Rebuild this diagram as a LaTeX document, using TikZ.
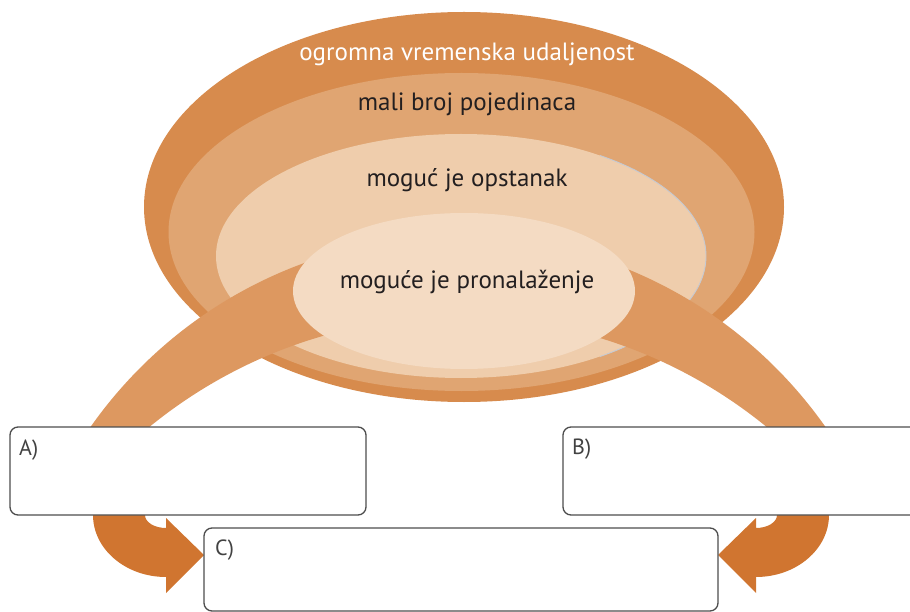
\documentclass[tikz,border=0pt]{standalone}
\usepackage{fontspec}
\setmainfont{PT Sans}
\usetikzlibrary{shapes.geometric}
\definecolor{eone}{HTML}{D78B4D}
\definecolor{etwo}{HTML}{E0A572}
\definecolor{ethree}{HTML}{EFCDAC}
\definecolor{efour}{HTML}{F4DBC3}
\definecolor{bandc}{HTML}{DD9860}
\definecolor{arrowc}{HTML}{D07530}
\definecolor{txtc}{HTML}{231F20}
\definecolor{boxline}{HTML}{4D4D4D}
\definecolor{edgegray}{HTML}{C5CAD3}
\tikzset{
  ring/.style={ellipse, inner sep=0pt, outer sep=0pt},
  ringtext/.style={anchor=base, inner sep=0pt, font=\fontsize{25}{28}\selectfont, text=txtc},
  answerbox/.style={draw=boxline, line width=1.3pt, rounded corners=8pt, fill=white, inner sep=0pt},
  boxlabel/.style={anchor=base west, inner sep=0pt, font=\fontsize{22}{26}\selectfont, text=boxline!85!black},
}
\begin{document}
\begin{tikzpicture}[x=1pt,y=-1pt]
\useasboundingbox (0,0) rectangle (910,612);
\clip (0,0) rectangle (910,612);
% concentric ellipses
\node[ring, fill=eone, minimum width=640pt, minimum height=390pt] (e1) at (464,207) {};
\node[ring, fill=etwo, minimum width=586pt, minimum height=318pt] (e2) at (461.5,232) {};
\node[ring, fill=ethree, minimum width=490pt, minimum height=244pt] (e3) at (461,256) {};
\begin{scope}
  \clip (600,0) rectangle (910,612);
  \draw[edgegray, line width=0.9pt] (461,256) ellipse [x radius=245, y radius=122];
\end{scope}
% arch band
\begin{scope}
  \clip (0,0) rectangle (910,440);
  \fill[bandc, even odd rule] (458,685) circle [radius=449] (458,805) circle [radius=488];
\end{scope}
\node[ring, fill=efour, minimum width=342pt, minimum height=156pt] (e4) at (464,291) {};
% texts
\node[ringtext, text=white] (t1) at (467,61) {ogromna vremenska udaljenost};
\node[ringtext] (t2) at (467,111) {mali broj pojedinaca};
\node[ringtext] (t3) at (467,187) {moguć je opstanak};
\node[ringtext] (t4) at (467,289) {moguće je pronalaženje};
% curved arrows
\fill[arrowc] (93,505) -- (93,515) .. controls (93,549.2) and (125.7,577) .. (166,577)
  -- (166,593) -- (204,555) -- (166,518) -- (166,528)
  .. controls (154.4,528) and (145,522.2) .. (145,515) -- (145,505) -- cycle;
\fill[arrowc] (829,505) -- (829,515) .. controls (829,549.2) and (796.3,577) .. (756,577)
  -- (756,593) -- (718,555) -- (756,518) -- (756,528)
  .. controls (767.6,528) and (777,522.2) .. (777,515) -- (777,505) -- cycle;
% answer boxes
\node[answerbox, minimum width=356pt, minimum height=88pt] (boxA) at (188,471) {};
\node[answerbox, minimum width=356pt, minimum height=88pt] (boxB) at (741,471) {};
\node[answerbox, minimum width=514pt, minimum height=83pt] (boxC) at (461,569.5) {};
\node[boxlabel] (la) at (19,455) {A)};
\node[boxlabel] (lb) at (572,454) {B)};
\node[boxlabel] (lc) at (215,555) {C)};
\end{tikzpicture}
\end{document}
